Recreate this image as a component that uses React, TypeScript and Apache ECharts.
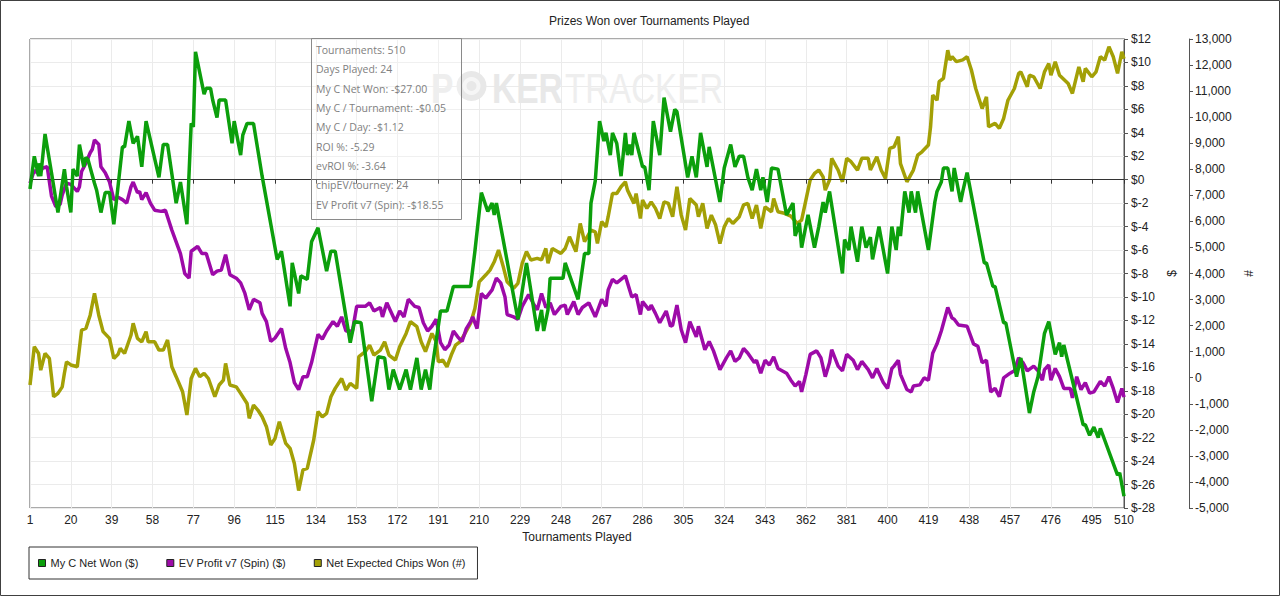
import React, { useEffect, useRef } from 'react';
import * as echarts from 'echarts';

const TITLE = 'Prizes Won over Tournaments Played';
const X_NAME = 'Tournaments Played';
const categories: string[] = Array.from({ length: 510 }, (_, i) => String(i + 1));
const seriesNames = ['My C Net Won ($)', 'EV Profit v7 (Spin) ($)', 'Net Expected Chips Won (#)'];
const seriesColors = ['#0c9f0c', '#9d0aa8', '#a3a006'];

// [tournament, $]
const netWon: [number, number][] = [
  [1, -0.8], [3, 2], [5, 0.3], [5, 1.4], [6, 0.3], [8, 3.9], [11, 0.6], [14, -2.8], [17, 0.9], [18, -0.6],
  [20, -2.8], [21, 0.9], [23, 0.3], [24, 3], [26, 1.1], [27, 1.9], [28, 1.7], [31, -0.3], [32, -0.9], [34, -2.8],
  [36, -1.1], [38, -1.1], [40, -3.8], [44, 2.8], [45, 2.8], [47, 5], [49, 3.1], [51, 3.7], [53, 1.1], [55, 5],
  [61, 0.2], [63, 3], [65, 3], [69, -2], [71, -0.2], [74, -3.8], [76, 4.8], [77, 4.5], [78, 10.9], [82, 7.3],
  [83, 7.8], [85, 7.8], [86, 6.8], [88, 5.3], [89, 6.8], [92, 6.8], [95, 3.1], [96, 5], [99, 2.1], [100, 3.8],
  [102, 4.8], [105, 4.8], [109, 0.3], [116, -6.8], [118, -6.1], [122, -10.8], [123, -7.1], [126, -9.7], [127, -8.2], [130, -8.5],
  [132, -5.3], [135, -4.1], [139, -7.8], [141, -6.1], [143, -6.1], [150, -13.9], [152, -12.1], [155, -12.2], [160, -18.9], [163, -15.1],
  [166, -15.2], [168, -17.9], [170, -16.2], [173, -17.9], [176, -16.2], [178, -17.9], [181, -15.2], [183, -17.9], [185, -16.2], [187, -17.9],
  [188, -16.2], [192, -11.2], [195, -11.2], [198, -9.1], [206, -9.1], [208, -6.1], [211, -1.1], [214, -2.7], [216, -2], [217, -3],
  [218, -2], [228, -11.9], [232, -7.1], [237, -12.9], [239, -11.1], [240, -12.9], [242, -11.1], [243, -8.4], [249, -8.4], [250, -7.1],
  [256, -10.2], [259, -6.3], [261, -6.3], [262, -2], [264, -0.1], [266, 5], [268, 3.3], [269, 4], [271, 2.1], [272, 4],
  [274, 3.1], [276, 0.3], [278, 4], [279, 2.1], [280, 3], [281, 2.1], [282, 4], [286, 1.1], [287, 1.1], [289, -0.9],
  [291, 5], [294, 2.1], [296, 7], [299, 4.1], [301, 6], [302, 5.8], [307, 0.2], [309, 2], [311, 0.2], [313, 4],
  [316, 1.1], [317, 2.8], [322, -1.9], [324, 1], [327, 3], [329, 1.1], [331, 2], [333, 2], [335, 0.2], [337, -0.9],
  [339, 0.9], [341, -0.9], [342, 0.2], [344, -1.9], [346, 1], [349, 0.9], [353, -3], [356, -2], [357, -4.8], [359, -3.7],
  [360, -5.8], [363, -3], [366, -5.8], [368, -4], [370, -1.9], [371, -2.8], [373, -1], [379, -8], [380, -5.1], [382, -6],
  [383, -4], [386, -7], [388, -4], [390, -5.8], [392, -4.9], [393, -6.8], [396, -4], [400, -8], [402, -4], [404, -6],
  [405, -4], [406, -4.8], [408, -1], [410, -2.8], [411, -1], [413, -2.8], [414, -1], [419, -6], [422, -1.9], [423, -1],
  [425, -0.2], [426, 1], [428, 1], [430, -1], [431, 1], [434, -1.9], [435, -1], [437, 0.6], [445, -7.1], [446, -7.1],
  [449, -9.1], [450, -9.1], [454, -12.2], [455, -12.2], [460, -16.8], [462, -15.2], [466, -19.9], [468, -18.1], [470, -16.8], [473, -13.1],
  [475, -12.1], [478, -14.9], [480, -13.9], [481, -15.1], [482, -14.1], [491, -20.9], [492, -20.9], [494, -21.8], [496, -21.1], [498, -22],
  [499, -21.2], [507, -25.2], [508, -25], [510, -27],
];

// [tournament, $]
const evProfit: [number, number][] = [
  [1, -0.3], [3, 0.8], [5, 0.5], [7, 1], [9, 1.1], [11, -1.4], [13, -2.3], [15, -2.1], [16, -1.3], [18, -0.3],
  [20, -0.4], [23, -1], [24, -0.6], [25, 0.7], [27, 1.4], [29, 2.3], [30, 2.6], [31, 3.4], [33, 3], [34, 1.1],
  [36, 0.6], [38, -0.2], [40, -1.7], [42, -1.5], [44, -1.7], [46, -2], [48, -0.6], [49, -0.2], [51, -1.1], [52, -1],
  [53, -1.7], [55, -1.1], [57, -2], [59, -2.6], [62, -2.7], [64, -2.6], [67, -4.3], [71, -6.3], [73, -8], [75, -8.4],
  [76, -6.1], [79, -5.7], [81, -6.3], [83, -6.3], [86, -8.1], [88, -7.8], [90, -7.7], [92, -6.4], [94, -8.1], [97, -8.4],
  [99, -8.8], [101, -9.7], [103, -11.1], [105, -10.2], [108, -10.5], [109, -11.4], [111, -12.1], [113, -13.8], [115, -13.5], [118, -12.7],
  [120, -14.4], [122, -15.6], [124, -17.3], [126, -17.9], [128, -16.8], [130, -16.8], [132, -15.6], [135, -13.2], [137, -13.6], [139, -12.9],
  [142, -12.1], [144, -12.5], [146, -11.7], [148, -12.9], [151, -12.9], [153, -10.8], [157, -10.8], [159, -10.5], [161, -11.2], [164, -10.9],
  [165, -11.7], [167, -10.5], [171, -12.1], [173, -11.2], [175, -11.7], [177, -10.2], [180, -10.8], [182, -10.9], [184, -12.2], [186, -12.9],
  [188, -12.5], [190, -11.9], [192, -13.9], [194, -14.5], [196, -14.1], [198, -12.9], [200, -13.4], [202, -13.8], [204, -12.7], [206, -12.1],
  [207, -11.7], [209, -12.7], [211, -9.7], [213, -10.1], [216, -9.4], [218, -8.4], [220, -8.8], [222, -10], [223, -11.5], [226, -11.7],
  [228, -11.9], [230, -10.8], [233, -9.8], [235, -10.5], [237, -11.1], [239, -9.7], [241, -10.9], [243, -10.5], [245, -11.5], [248, -10.8],
  [250, -10.7], [251, -11.5], [254, -10.4], [256, -11.5], [258, -10.9], [261, -10.5], [264, -11.7], [267, -10.2], [269, -10.8], [270, -9.4],
  [272, -8.5], [274, -8.8], [276, -8.5], [278, -8.2], [279, -8.8], [281, -10], [283, -9.8], [285, -11.5], [286, -10.4], [289, -11.1],
  [290, -10.7], [292, -11.4], [294, -12.2], [297, -11.2], [299, -12.5], [300, -12.4], [302, -10.7], [304, -12.8], [306, -13.9], [308, -12.1],
  [311, -13.4], [312, -12.5], [315, -14.5], [317, -13.8], [319, -14.6], [322, -16.2], [325, -15.2], [327, -14.6], [329, -15.5], [331, -15.2],
  [333, -14.4], [335, -14.8], [338, -15.6], [339, -15.4], [341, -16.5], [343, -15.4], [345, -15.8], [347, -15.1], [349, -16.1], [353, -16.5],
  [355, -17.1], [357, -17.6], [359, -17.2], [360, -18.1], [362, -16.6], [364, -14.9], [367, -14.6], [369, -15.2], [371, -16.8], [373, -15.6],
  [374, -14.5], [377, -15.9], [379, -16.3], [381, -14.9], [384, -15.4], [386, -16.2], [388, -15.5], [391, -16.2], [393, -16.9], [395, -16.1],
  [398, -17.3], [400, -17.8], [402, -16.1], [403, -15.9], [405, -15.4], [406, -16.6], [409, -17.9], [411, -18.1], [412, -17.6], [415, -17.5],
  [417, -16.9], [419, -17.1], [421, -14.8], [423, -14], [425, -12.9], [428, -10.9], [430, -11.8], [431, -11.9], [433, -12.4], [437, -12.5],
  [440, -14], [442, -14.2], [444, -15.6], [446, -15.4], [448, -18.1], [450, -17.8], [452, -18.5], [454, -16.9], [457, -16.5], [459, -16.3],
  [461, -15.2], [463, -15.6], [465, -16.3], [468, -15.9], [470, -16.3], [472, -17.1], [473, -16.2], [475, -15.8], [476, -17.1], [478, -16.1],
  [480, -16.8], [482, -17.8], [485, -17.8], [486, -18.6], [488, -16.8], [490, -17.9], [492, -17.3], [494, -18.2], [496, -18.1], [499, -17.2],
  [501, -17.6], [503, -16.8], [505, -17.8], [507, -19], [509, -17.8], [510, -18.55],
];

// [tournament, chips]
const expectedChips: [number, number][] = [
  [1, -280], [3, 1190], [5, 930], [6, 290], [8, 930], [10, 740], [11, 40], [12, -730], [14, -600], [16, -350],
  [17, 170], [18, 610], [20, 490], [23, 420], [25, 1830], [27, 1890], [29, 2400], [31, 3240], [33, 2400], [35, 1770],
  [38, 1510], [40, 740], [42, 900], [43, 1130], [45, 930], [48, 1640], [49, 2090], [51, 1510], [53, 1380], [55, 1770],
  [56, 1380], [59, 1380], [61, 1060], [63, 1060], [65, 1450], [67, 420], [69, 40], [72, -540], [74, -1430], [76, -30],
  [78, 360], [80, 40], [82, 170], [84, -30], [87, -730], [89, -280], [91, -90], [92, 550], [94, -280], [97, -350],
  [99, -600], [102, -990], [103, -1560], [105, -1050], [107, -1240], [109, -1500], [111, -1880], [113, -2580], [115, -2330], [117, -1690],
  [120, -2520], [122, -2710], [124, -3290], [126, -4330], [128, -3540], [130, -3480], [133, -2390], [135, -1300], [137, -1500], [139, -1370],
  [141, -730], [143, -410], [146, -30], [148, -470], [150, -220], [153, -410], [154, 810], [157, 1000], [159, 1250], [161, 870],
  [164, 1060], [166, 1380], [168, 870], [171, 680], [173, 1190], [176, 1700], [178, 2150], [181, 1960], [183, 1380], [185, 1000],
  [188, 1700], [190, 1380], [191, 610], [193, 680], [195, 420], [197, 870], [199, 1250], [201, 1380], [203, 1640], [206, 2090],
  [208, 2660], [210, 3680], [213, 3940], [215, 4130], [217, 4450], [219, 4900], [221, 4320], [223, 3680], [226, 3430], [228, 3620],
  [230, 4390], [232, 4840], [234, 4520], [237, 4580], [239, 4520], [241, 4960], [242, 4390], [244, 4960], [248, 4770], [250, 4960],
  [252, 5410], [255, 4840], [257, 5920], [259, 5220], [262, 5660], [264, 5600], [265, 5150], [267, 5990], [269, 5790], [270, 6180],
  [272, 7070], [274, 7070], [276, 7330], [278, 7520], [279, 7200], [282, 6690], [283, 7070], [285, 6110], [286, 6820], [288, 6500],
  [290, 6750], [292, 6500], [294, 6110], [296, 6750], [298, 6690], [300, 6180], [302, 7330], [304, 6240], [306, 5670], [308, 6880],
  [311, 6630], [312, 6180], [314, 6690], [316, 5730], [318, 6240], [320, 5860], [322, 5150], [324, 5790], [326, 6110], [328, 5920],
  [331, 6180], [333, 6630], [335, 6690], [337, 6110], [339, 6630], [341, 5730], [343, 6560], [346, 6370], [347, 6880], [349, 6370],
  [352, 6310], [355, 6200], [358, 5920], [360, 6050], [362, 6820], [364, 7590], [366, 7840], [368, 7970], [370, 7710], [371, 7200],
  [373, 7590], [374, 8420], [377, 7970], [379, 7520], [381, 8420], [383, 8290], [386, 7970], [388, 8420], [391, 8420], [392, 7970],
  [395, 8480], [397, 7970], [399, 7650], [401, 8800], [403, 8860], [405, 9250], [406, 8220], [409, 7520], [412, 7970], [414, 8540],
  [416, 8670], [419, 8930], [420, 9630], [421, 10850], [423, 10650], [424, 11360], [426, 11490], [428, 12570], [429, 12190], [430, 12320],
  [432, 12130], [435, 12200], [437, 12320], [439, 11810], [441, 11100], [444, 10330], [446, 10780], [447, 9630], [450, 9760], [452, 9570],
  [454, 9950], [456, 10650], [459, 11100], [461, 11680], [462, 11740], [465, 11170], [466, 11610], [468, 11550], [471, 11100], [473, 11740],
  [475, 12060], [476, 11610], [478, 12130], [480, 11610], [484, 11290], [486, 10910], [489, 11930], [491, 11360], [492, 11870], [495, 11550],
  [497, 11740], [499, 12320], [501, 12190], [503, 12700], [505, 12320], [507, 11680], [509, 12510], [510, 12240],
];

const infoLines = [
  'Tournaments: 510',
  'Days Played: 24',
  'My C Net Won: -$27.00',
  'My C / Tournament: -$0.05',
  'My C / Day: -$1.12',
  'ROI %: -5.29',
  'evROI %: -3.64',
  'chipEV/tourney: 24',
  'EV Profit v7 (Spin): -$18.55',
];

const FONT = '"Liberation Sans", Arial, sans-serif';
const LABEL_STEP = 19;
const showIdx = (i: number) => i % LABEL_STEP === 0 || i === categories.length - 1;
const toCat = (pts: [number, number][]) => pts.map(([t, v]) => [String(t), v]);

export default function App() {
  const ref = useRef<HTMLDivElement>(null);

  useEffect(() => {
    if (!ref.current) return;
    const chart = echarts.init(ref.current, undefined, { renderer: 'svg' });

    const infoTexts = infoLines.map((line, i) => ({
      type: 'text',
      x: 316,
      y: 50 + i * 19.35,
      z: 20,
      style: {
        text: line,
        fill: '#808080',
        font: '10.5px "Open Sans", "Noto Sans", sans-serif',
        verticalAlign: 'middle',
        align: 'left',
      },
    }));

    const option: any = {
      animation: false,
      backgroundColor: '#ffffff',
      title: {
        text: TITLE,
        left: 549,
        top: 15,
        padding: 0,
        textStyle: { fontSize: 12, fontWeight: 'normal', color: '#222', fontFamily: FONT },
      },
      legend: {
        left: 29,
        top: 547,
        orient: 'horizontal',
        padding: [10, 12, 10, 9],
        itemGap: 28,
        itemWidth: 7,
        itemHeight: 7,
        icon: 'rect',
        borderColor: '#333',
        borderWidth: 1,
        itemStyle: { borderColor: '#222', borderWidth: 1 },
        textStyle: { fontSize: 11, color: '#222', fontFamily: FONT, lineHeight: 12 },
        data: seriesNames,
      },
      grid: {
        left: 30,
        right: 156,
        top: 39,
        bottom: 88,
        show: true,
        borderColor: '#555',
        borderWidth: 1,
        containLabel: false,
      },
      xAxis: {
        type: 'category',
        data: categories,
        boundaryGap: false,
        name: X_NAME,
        nameLocation: 'middle',
        nameGap: 23,
        nameTextStyle: { fontSize: 12, color: '#222', fontFamily: FONT },
        axisLine: { show: true, lineStyle: { color: '#333' } },
        axisTick: { show: true, length: 4, interval: showIdx, lineStyle: { color: '#333' } },
        axisLabel: { interval: showIdx, margin: 6, fontSize: 12, color: '#222', fontFamily: FONT },
        splitLine: { show: true, interval: showIdx, lineStyle: { color: '#ebebeb', width: 1 } },
      },
      yAxis: [
        {
          type: 'value',
          position: 'right',
          min: -28,
          max: 12,
          interval: 2,
          name: '$',
          nameLocation: 'middle',
          nameGap: 36,
          nameTextStyle: { fontSize: 12, color: '#222', fontFamily: FONT },
          axisLine: { show: true, lineStyle: { color: '#555' } },
          axisTick: { show: true, length: 4, lineStyle: { color: '#555' } },
          axisLabel: { formatter: (v: number) => '$' + v, margin: 7, fontSize: 12, color: '#222', fontFamily: FONT },
          splitLine: { show: true, lineStyle: { color: '#ebebeb', width: 1 } },
        },
        {
          type: 'value',
          position: 'right',
          offset: 65,
          min: -5000,
          max: 13000,
          interval: 1000,
          name: '#',
          nameLocation: 'middle',
          nameGap: 50,
          nameTextStyle: { fontSize: 12, color: '#222', fontFamily: FONT },
          axisLine: { show: true, lineStyle: { color: '#555' } },
          axisTick: { show: true, length: 4, lineStyle: { color: '#555' } },
          axisLabel: {
            formatter: (v: number) => v.toLocaleString('en-US'),
            margin: 6,
            fontSize: 12,
            color: '#222',
            fontFamily: FONT,
          },
          splitLine: { show: false },
        },
      ],
      series: [
        {
          name: seriesNames[0],
          type: 'line',
          yAxisIndex: 0,
          data: toCat(netWon),
          showSymbol: false,
          symbol: 'none',
          z: 5,
          color: seriesColors[0],
          lineStyle: { width: 3.5, color: seriesColors[0] },
        },
        {
          name: seriesNames[1],
          type: 'line',
          yAxisIndex: 0,
          data: toCat(evProfit),
          showSymbol: false,
          symbol: 'none',
          z: 4,
          color: seriesColors[1],
          lineStyle: { width: 3.5, color: seriesColors[1] },
          markLine: {
            silent: true,
            symbol: ['none', 'none'],
            label: { show: false },
            lineStyle: { color: '#333', width: 1, type: 'solid' },
            data: [{ yAxis: 0 }],
          },
        },
        {
          name: seriesNames[2],
          type: 'line',
          yAxisIndex: 1,
          data: toCat(expectedChips),
          showSymbol: false,
          symbol: 'none',
          z: 3,
          color: seriesColors[2],
          lineStyle: { width: 3.5, color: seriesColors[2] },
        },
      ],
      graphic: {
        elements: [
          {
            type: 'rect',
            z: 100,
            silent: true,
            shape: { x: 0.5, y: 0.5, width: 1279, height: 595 },
            style: { fill: 'none', stroke: '#404040', lineWidth: 1 },
          },
          {
            type: 'text',
            x: 431,
            y: 88,
            z: 1,
            scaleX: 0.78,
            style: { text: 'P', fill: '#e8e8e8', font: 'bold 43px "Liberation Sans", Arial, sans-serif', verticalAlign: 'middle' },
          },
          {
            type: 'circle',
            z: 1,
            shape: { cx: 471.5, cy: 86, r: 15 },
            style: { fill: '#e8e8e8' },
          },
          {
            type: 'circle',
            z: 1,
            shape: { cx: 471.5, cy: 86, r: 9 },
            style: { fill: '#f6f6f6' },
          },
          {
            type: 'circle',
            z: 1,
            shape: { cx: 471.5, cy: 86, r: 5 },
            style: { fill: '#e8e8e8' },
          },
          {
            type: 'text',
            x: 492,
            y: 88,
            z: 1,
            scaleX: 0.78,
            style: { text: 'KER', fill: '#e8e8e8', font: 'bold 43px "Liberation Sans", Arial, sans-serif', verticalAlign: 'middle' },
          },
          {
            type: 'text',
            x: 565,
            y: 88,
            z: 1,
            scaleX: 0.77,
            style: { text: 'TRACKER', fill: '#eeeeee', font: '43px "Liberation Sans", Arial, sans-serif', verticalAlign: 'middle' },
          },
          {
            type: 'rect',
            z: 19,
            shape: { x: 311.5, y: 38.5, width: 150, height: 181 },
            style: { fill: 'rgba(255,255,255,0.25)', stroke: '#8a8a8a', lineWidth: 1 },
          },
          ...infoTexts,
        ],
      },
    };

    chart.setOption(option);
    return () => chart.dispose();
  }, []);

  return (
    <div
      ref={ref}
      style={{ position: 'absolute', left: 0, top: 0, width: 1280, height: 596, background: '#fff' }}
    />
  );
}
